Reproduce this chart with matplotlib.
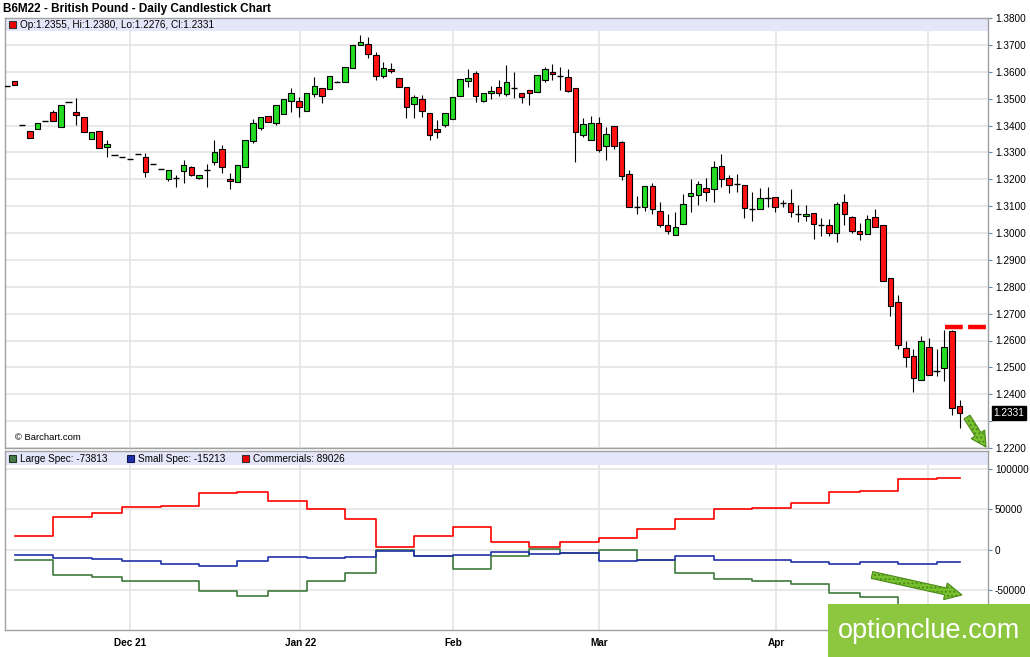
import numpy as np
import matplotlib
matplotlib.use('Agg')
import matplotlib.pyplot as plt
import matplotlib.patches as mpatches

# --- data ---

opens = [1.3547, 1.3566, 1.3403, 1.3381, 1.3386, 1.3417, 1.3452, 1.3396, 1.3487, 1.3452,
         1.3431, 1.3349, 1.3380, 1.3319, 1.3291, 1.3281, 1.3277, 1.3293, 1.3284, 1.3257,
         1.3238, 1.3200, 1.3206, 1.3229, 1.3247, 1.3204, 1.3235, 1.3264, 1.3311, 1.3200,
         1.3188, 1.3247, 1.3344, 1.3390, 1.3437, 1.3409, 1.3443, 1.3493, 1.3491, 1.3454,
         1.3516, 1.3539, 1.3535, 1.3563, 1.3563, 1.3615, 1.3700, 1.3703, 1.3662, 1.3586,
         1.3610, 1.3578, 1.3545, 1.3479, 1.3499, 1.3446, 1.3387, 1.3402, 1.3423, 1.3511,
         1.3566, 1.3594, 1.3490, 1.3520, 1.3545, 1.3517, 1.3541, 1.3520, 1.3532, 1.3526,
         1.3570, 1.3598, 1.3584, 1.3580, 1.3541, 1.3365, 1.3347, 1.3411, 1.3322, 1.3398,
         1.3338, 1.3220, 1.3096, 1.3096, 1.3175, 1.3080, 1.3030, 1.2993, 1.3033, 1.3138,
         1.3142, 1.3167, 1.3164, 1.3251, 1.3204, 1.3182, 1.3179, 1.3090, 1.3089, 1.3132,
         1.3133, 1.3111, 1.3111, 1.3070, 1.3064, 1.3074, 1.3030, 1.3030, 1.2999, 1.3115,
         1.3061, 1.3006, 1.2997, 1.3061, 1.3028, 1.2832, 1.2742, 1.2572, 1.2541, 1.2454,
         1.2576, 1.2488, 1.2498, 1.2634, 1.2355]
highs = [1.3547, 1.3566, 1.3403, 1.3381, 1.3409, 1.3417, 1.3458, 1.3477, 1.3487, 1.3502,
         1.3431, 1.3377, 1.3380, 1.3346, 1.3291, 1.3281, 1.3277, 1.3293, 1.3297, 1.3257,
         1.3238, 1.3235, 1.3216, 1.3272, 1.3250, 1.3216, 1.3257, 1.3346, 1.3328, 1.3222,
         1.3253, 1.3346, 1.3423, 1.3431, 1.3437, 1.3477, 1.3498, 1.3539, 1.3507, 1.3520,
         1.3582, 1.3539, 1.3584, 1.3565, 1.3617, 1.3700, 1.3737, 1.3731, 1.3672, 1.3635,
         1.3632, 1.3578, 1.3545, 1.3514, 1.3514, 1.3446, 1.3421, 1.3446, 1.3507, 1.3573,
         1.3610, 1.3603, 1.3522, 1.3548, 1.3570, 1.3625, 1.3598, 1.3520, 1.3532, 1.3588,
         1.3619, 1.3628, 1.3619, 1.3610, 1.3541, 1.3429, 1.3436, 1.3433, 1.3396, 1.3398,
         1.3343, 1.3234, 1.3136, 1.3175, 1.3185, 1.3117, 1.3070, 1.3080, 1.3144, 1.3201,
         1.3192, 1.3204, 1.3268, 1.3293, 1.3216, 1.3219, 1.3179, 1.3154, 1.3168, 1.3173,
         1.3133, 1.3124, 1.3164, 1.3105, 1.3105, 1.3076, 1.3055, 1.3052, 1.3117, 1.3146,
         1.3063, 1.3039, 1.3067, 1.3088, 1.3030, 1.2832, 1.2770, 1.2600, 1.2568, 1.2617,
         1.2608, 1.2568, 1.2638, 1.2640, 1.2380]
lows = [1.3547, 1.3551, 1.3403, 1.3353, 1.3386, 1.3417, 1.3415, 1.3396, 1.3487, 1.3402,
        1.3377, 1.3349, 1.3316, 1.3281, 1.3291, 1.3281, 1.3277, 1.3293, 1.3210, 1.3257,
        1.3238, 1.3195, 1.3171, 1.3185, 1.3212, 1.3200, 1.3171, 1.3254, 1.3225, 1.3163,
        1.3188, 1.3247, 1.3334, 1.3385, 1.3412, 1.3402, 1.3443, 1.3452, 1.3431, 1.3454,
        1.3507, 1.3485, 1.3535, 1.3560, 1.3563, 1.3615, 1.3700, 1.3650, 1.3570, 1.3576,
        1.3594, 1.3542, 1.3429, 1.3429, 1.3433, 1.3347, 1.3355, 1.3395, 1.3423, 1.3511,
        1.3545, 1.3489, 1.3486, 1.3499, 1.3511, 1.3511, 1.3504, 1.3483, 1.3477, 1.3526,
        1.3563, 1.3570, 1.3532, 1.3526, 1.3264, 1.3359, 1.3347, 1.3303, 1.3272, 1.3314,
        1.3198, 1.3096, 1.3071, 1.3083, 1.3070, 1.3024, 1.2996, 1.2993, 1.3033, 1.3080,
        1.3105, 1.3120, 1.3115, 1.3173, 1.3148, 1.3152, 1.3055, 1.3045, 1.3089, 1.3098,
        1.3078, 1.3095, 1.3058, 1.3040, 1.3045, 1.2977, 1.2987, 1.2990, 1.2965, 1.3030,
        1.3000, 1.2975, 1.2997, 1.3022, 1.2820, 1.2693, 1.2568, 1.2501, 1.2407, 1.2454,
        1.2473, 1.2467, 1.2448, 1.2324, 1.2276]
closes = [1.3547, 1.3551, 1.3403, 1.3353, 1.3409, 1.3417, 1.3415, 1.3477, 1.3487, 1.3440,
          1.3377, 1.3377, 1.3316, 1.3330, 1.3291, 1.3281, 1.3277, 1.3293, 1.3227, 1.3257,
          1.3238, 1.3235, 1.3206, 1.3253, 1.3216, 1.3216, 1.3235, 1.3301, 1.3245, 1.3192,
          1.3253, 1.3346, 1.3409, 1.3431, 1.3412, 1.3477, 1.3498, 1.3520, 1.3470, 1.3520,
          1.3547, 1.3511, 1.3584, 1.3563, 1.3617, 1.3700, 1.3710, 1.3665, 1.3586, 1.3613,
          1.3603, 1.3542, 1.3470, 1.3507, 1.3454, 1.3365, 1.3375, 1.3446, 1.3507, 1.3573,
          1.3576, 1.3511, 1.3522, 1.3529, 1.3520, 1.3563, 1.3541, 1.3505, 1.3520, 1.3588,
          1.3610, 1.3591, 1.3584, 1.3530, 1.3375, 1.3405, 1.3411, 1.3309, 1.3368, 1.3325,
          1.3213, 1.3096, 1.3096, 1.3175, 1.3090, 1.3030, 1.3009, 1.3024, 1.3107, 1.3148,
          1.3182, 1.3154, 1.3247, 1.3201, 1.3179, 1.3182, 1.3093, 1.3090, 1.3130, 1.3132,
          1.3098, 1.3111, 1.3078, 1.3070, 1.3071, 1.3034, 1.3030, 1.2999, 1.3109, 1.3071,
          1.3006, 1.2997, 1.3053, 1.3022, 1.2820, 1.2730, 1.2584, 1.2539, 1.2461, 1.2597,
          1.2473, 1.2488, 1.2576, 1.2349, 1.2331]

# weekly COT steps (bar index where each report starts)
cot_weeks = [1, 6, 11, 15, 20, 25, 30, 34, 39, 44, 48, 53, 58, 63, 68, 72, 77, 82, 87,
             92, 97, 102, 107, 111, 116, 121]
cot_end = 124
large_spec = [-12400, -31100, -34300, -39300, -38700, -51000, -58000, -51000, -39300,
              -29400, -800, -8300, -23600, -8000, 1200, -4800, -400, -12800, -29400,
              -37000, -39500, -42700, -53900, -59200, -70500, -73813]
small_spec = [-6200, -10300, -11600, -14500, -17400, -20300, -13700, -9100, -10300,
              -9100, -2000, -8300, -6200, -2500, -5300, -4800, -13700, -12800, -8300,
              -13200, -13000, -15700, -17800, -14900, -17800, -15213]
commercials = [17400, 40700, 45300, 53100, 54400, 70500, 71400, 60200, 49800, 38200,
               3000, 16700, 28600, 9500, 3000, 9600, 14600, 25700, 38200, 49800, 51900,
               57700, 71400, 73400, 87900, 89026]

month_pos = [16.0, 38.2, 58.1, 77.1, 100.1, 119.9]
month_labels = ['Dec 21', 'Jan 22', 'Feb', 'Mar', 'Apr', '']  # May sits under the logo

price_ticks = np.round(np.arange(1.22, 1.385, 0.01), 2)
cot_ticks = [100000, 50000, 0, -50000]

# --- layout helpers (pixels -> figure fraction) ---
W, H = 1030, 657
FONT = 'Liberation Sans'
GRID = '#e4e4e4'
SPINE = '#a0a0a0'
BAND = '#e6e6fa'


def fx(x):
    return x / W


def fy(y):
    return 1 - y / H


def style_axes(ax):
    for s in ax.spines.values():
        s.set_color(SPINE)
        s.set_linewidth(1.0)
    ax.grid(True, color=GRID, lw=1.2)
    ax.set_axisbelow(True)
    ax.yaxis.tick_right()
    ax.tick_params(axis='y', direction='out', length=3, pad=2, labelsize=7.2,
                   color='#6688aa', labelcolor='black')
    ax.set_xticks(month_pos)
    ax.set_xlim(-0.26, 127.7)


def square(x, y, color, edge):
    # small legend square, pixel coords of its centre
    fig.add_artist(mpatches.Rectangle((fx(x - 3.5), fy(y + 3.5)), 7 / W, 7 / H,
                                      transform=fig.transFigure, facecolor=color,
                                      edgecolor=edge, lw=0.8, zorder=5))


plt.rcParams['font.family'] = [FONT, 'DejaVu Sans']
fig = plt.figure(figsize=(10.3, 6.57), dpi=100)

# --- price panel ---
ax = fig.add_axes([fx(5), fy(448), (988 - 5) / W, (448 - 18) / H])
style_axes(ax)
ax.set_ylim(1.22, 1.3800)
ax.set_yticks(price_ticks)
ax.set_yticklabels(['' if abs(v - 1.23) < 1e-6 else f'{v:.4f}' for v in price_ticks])
ax.tick_params(axis='x', length=0, labelbottom=False)

o, h, l, c = (np.array(a) for a in (opens, highs, lows, closes))
x = np.arange(len(o))
up = c > o
down = c < o
flat = c == o
ax.vlines(x, l, h, color='black', lw=0.8, zorder=2)
ax.bar(x[up], (c - o)[up], bottom=o[up], width=0.72, color='#22dd22',
       edgecolor='black', lw=0.8, zorder=3)
ax.bar(x[down], (o - c)[down], bottom=c[down], width=0.72, color='#ff1111',
       edgecolor='black', lw=0.8, zorder=3)
ax.hlines(o[flat], x[flat] - 0.4, x[flat] + 0.4, color='black', lw=1.0, zorder=3)

# header band
ax.add_patch(mpatches.Rectangle((0, 1 - 13 / 430), 1, 13 / 430, transform=ax.transAxes,
                                facecolor=BAND, edgecolor='none', zorder=1.5))
square(12, 24.5, '#ee0000', '#333333')
fig.text(fx(19.5), fy(24.5), 'Op:1.2355, Hi:1.2380, Lo:1.2276, Cl:1.2331',
         fontsize=7.2, va='center', ha='left', zorder=5)
fig.text(fx(15), fy(437), '© Barchart.com', fontsize=6.8, va='center', ha='left')

# red resistance level drawn on the chart
ax.hlines(1.2652, 122.1, 127.7, color='#ff0000', lw=3.2, linestyles=(0, (4, 1.2)), zorder=4)

# last price marker
fig.text(fx(1009), fy(413), '1.2331', color='white', fontsize=7.2, ha='center', va='center',
         bbox=dict(boxstyle='square,pad=0.18', facecolor='black', edgecolor='black'),
         zorder=6)

# --- COT panel ---
ax2 = fig.add_axes([fx(5), fy(630), (988 - 5) / W, (630 - 451) / H])
style_axes(ax2)
ax2.set_ylim(-100000, 122500)
ax2.set_yticks(cot_ticks)
ax2.set_yticklabels([str(v) for v in cot_ticks])
ax2.set_xticklabels(month_labels, fontweight='bold', fontsize=7.2)
ax2.tick_params(axis='x', length=0, pad=6)

steps_x = cot_weeks + [cot_end]
ax2.step(steps_x, large_spec + [large_spec[-1]], where='post', color='#3d7a3d', lw=1.2, zorder=3)
ax2.step(steps_x, small_spec + [small_spec[-1]], where='post', color='#2030a8', lw=1.2, zorder=3)
ax2.step(steps_x, commercials + [commercials[-1]], where='post', color='#ff0000', lw=1.2, zorder=3)

band_h = 14 / 179
ax2.add_patch(mpatches.Rectangle((0, 1 - band_h), 1, band_h, transform=ax2.transAxes,
                                 facecolor=BAND, edgecolor='none', zorder=1.5))
legend_items = [(12, 19.5, '#4a7a4a', '#1e3a1e', 'Large Spec: -73813'),
                (130, 137.7, '#2030a8', '#101850', 'Small Spec: -15213'),
                (245, 253, '#ee0000', '#333333', 'Commercials: 89026')]
for sq_x, tx, col, edge, label in legend_items:
    square(sq_x, 458.7, col, edge)
    fig.text(fx(tx), fy(458.7), label, fontsize=7.2, ha='left', va='center', zorder=5)

# title
fig.text(fx(3), fy(9), 'B6M22 - British Pound - Daily Candlestick Chart',
         fontsize=8.5, fontweight='bold', ha='left', va='center')

# green arrows drawn on the chart
inch = fig.dpi_scale_trans
for (x0, y0, x1, y1, w, hw, hl) in [(967, 417, 986, 447, 0.07, 0.16, 0.15),
                                     (872, 575, 962, 595, 0.07, 0.17, 0.17)]:
    arr = mpatches.FancyArrow(x0 / 100, (H - y0) / 100, (x1 - x0) / 100, -(y1 - y0) / 100,
                              width=w, head_width=hw, head_length=hl,
                              length_includes_head=True, transform=inch,
                              facecolor='#78c22e', edgecolor='#4d8a1c', lw=0.8,
                              hatch='....', zorder=7)
    fig.add_artist(arr)

# watermark
fig.add_artist(mpatches.Rectangle((fx(828), 0), fx(1030) - fx(828), fy(604),
                                  transform=fig.transFigure, facecolor='#8dc63f',
                                  edgecolor='none', zorder=8))
fig.text(fx(929), fy(631), 'optionclue.com', color='white', fontsize=19.5,
         ha='center', va='center', zorder=9)

fig.savefig('out.png', dpi=100, facecolor='white')
